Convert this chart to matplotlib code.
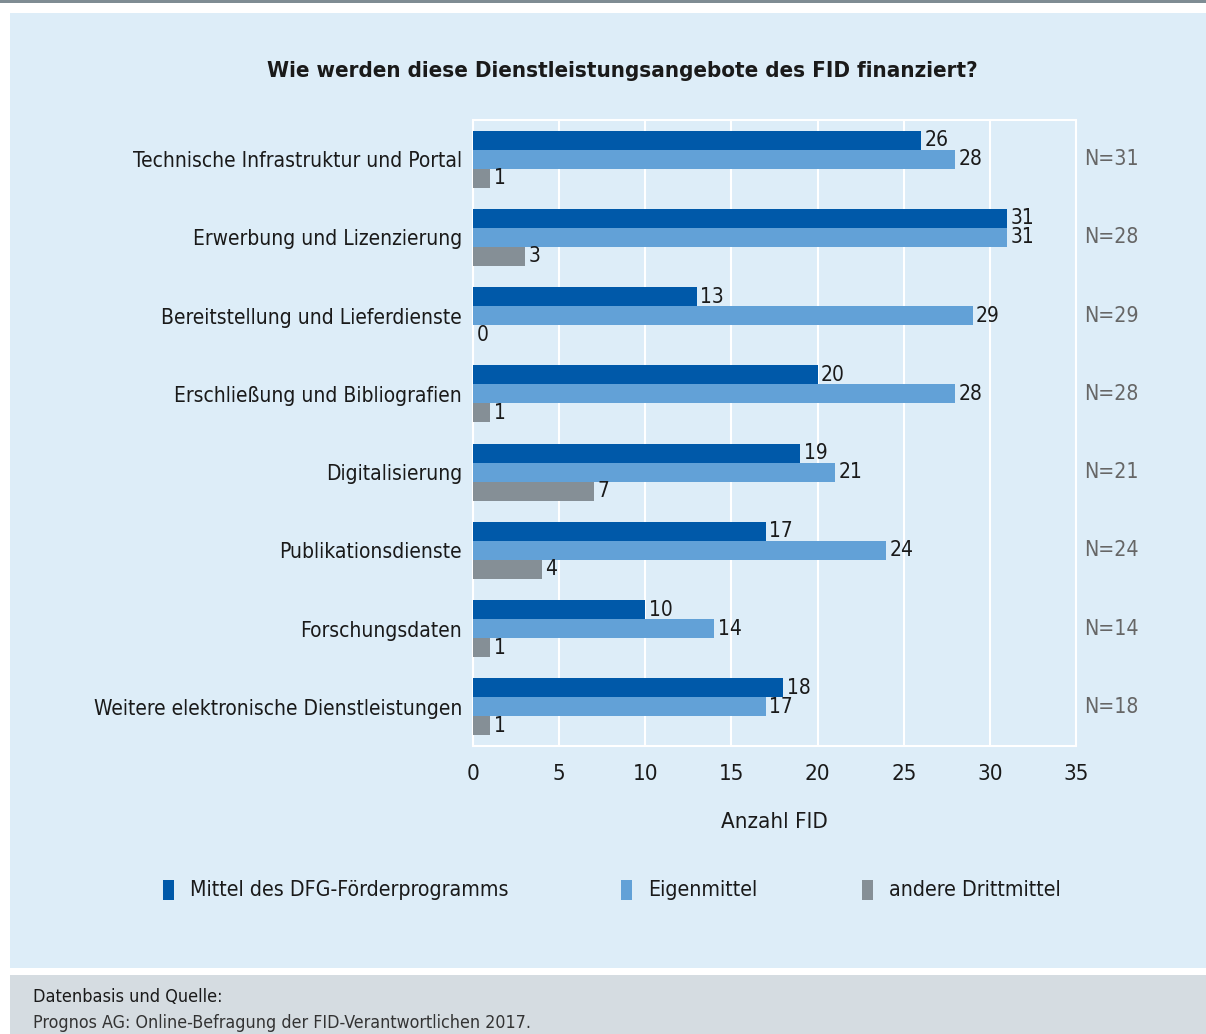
import numpy as np
import matplotlib
matplotlib.use("Agg")
import matplotlib.pyplot as plt
from matplotlib.patches import Rectangle

plt.rcParams['font.family'] = ['DejaVu Sans']
plt.rcParams['font.stretch'] = 'condensed'

categories = ['Technische Infrastruktur und Portal', 'Erwerbung und Lizenzierung',
              'Bereitstellung und Lieferdienste', 'Erschließung und Bibliografien',
              'Digitalisierung', 'Publikationsdienste', 'Forschungsdaten',
              'Weitere elektronische Dienstleistungen']
dfg = [26, 31, 13, 20, 19, 17, 10, 18]
eigen = [28, 31, 29, 28, 21, 24, 14, 17]
andere = [1, 3, 0, 1, 7, 4, 1, 1]
n_total = [31, 28, 29, 28, 21, 24, 14, 18]
series_names = ['Mittel des DFG-Förderprogramms', 'Eigenmittel', 'andere Drittmittel']
colors = ['#0059a9', '#62a1d7', '#858f96']

W, H = 1206, 1034
fig = plt.figure(figsize=(W / 100, H / 100), dpi=100)
fig.patch.set_facecolor('white')

def fx(px):
    return px / W

def fy(py):
    return 1 - py / H

# panel backgrounds
fig.patches.append(Rectangle((0, fy(3)), 1, 3 / H, transform=fig.transFigure,
                             facecolor='#7f8c93', edgecolor='none', zorder=-10))
fig.patches.append(Rectangle((fx(10), fy(968)), fx(1196), (968 - 13) / H,
                             transform=fig.transFigure, facecolor='#ddedf8',
                             edgecolor='none', zorder=-10))
fig.patches.append(Rectangle((fx(10), 0), fx(1196), (1034 - 975) / H,
                             transform=fig.transFigure, facecolor='#d5dce1',
                             edgecolor='none', zorder=-10))

ax = fig.add_axes([fx(473), fy(746), fx(1076 - 473), (746 - 120) / H])
ax.set_facecolor('#ddedf8')

y = np.arange(len(categories))
bh = 0.243
vals = [dfg, eigen, andere]
for k, (v, c) in enumerate(zip(vals, colors)):
    yy = y + (k - 1) * bh
    ax.barh(yy, v, height=bh, color=c, zorder=3)
    for yi, vi in zip(yy, v):
        ax.text(vi + 0.2, yi, str(vi), va='center', ha='left', fontsize=15,
                color='#1a1a1a', zorder=4)

for yi, n in zip(y, n_total):
    ax.text(35.5, yi, 'N=%d' % n, va='center', ha='left', fontsize=15.3, color='#666666')

ax.set_xlim(0, 35)
ax.set_ylim(len(categories) - 0.5, -0.5)
ax.set_xticks(np.arange(0, 36, 5))
ax.set_yticks(y)
ax.set_yticklabels(categories, fontsize=15, color='#1a1a1a')
ax.tick_params(axis='x', labelsize=16, colors='#1a1a1a', length=0, pad=13)
ax.tick_params(axis='y', length=0, pad=8)
ax.grid(axis='x', color='white', linewidth=1.5, zorder=1)
for s in ax.spines.values():
    s.set_color('white')
    s.set_linewidth(1.5)
ax.set_xlabel('Anzahl FID', fontsize=16, color='#1a1a1a', labelpad=20)

fig.text(fx(622), fy(71), 'Wie werden diese Dienstleistungsangebote des FID finanziert?',
         ha='center', va='center', fontsize=16, fontweight='bold', color='#1a1a1a')

# legend
leg_x = [163, 621, 862]
for lx, name, c in zip(leg_x, series_names, colors):
    fig.patches.append(Rectangle((fx(lx), fy(900)), fx(11), 20 / H,
                                 transform=fig.transFigure, facecolor=c,
                                 edgecolor='none'))
    fig.text(fx(lx + 27), fy(890), name, ha='left', va='center', fontsize=15.3,
             color='#1a1a1a')

fig.text(fx(33), fy(997), 'Datenbasis und Quelle:', ha='left', va='center',
         fontsize=13, color='#1a1a1a')
fig.text(fx(33), fy(1023), 'Prognos AG: Online-Befragung der FID-Verantwortlichen 2017.',
         ha='left', va='center', fontsize=12.8, color='#333333')

fig.savefig('out.png', dpi=100, facecolor=fig.get_facecolor())
